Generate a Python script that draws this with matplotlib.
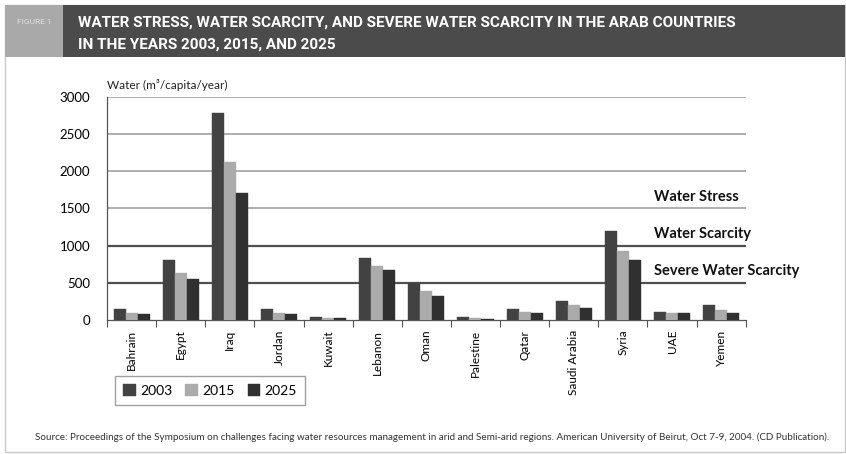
import matplotlib
matplotlib.use("Agg")
import matplotlib.pyplot as plt
import numpy as np
from matplotlib.patches import Rectangle

plt.rcParams['font.family'] = ['Lato', 'DejaVu Sans']

countries = ["Bahrain", "Egypt", "Iraq", "Jordan", "Kuwait", "Lebanon", "Oman",
             "Palestine", "Qatar", "Saudi Arabia", "Syria", "UAE", "Yemen"]
years = ["2003", "2015", "2025"]
v2003 = [148, 806, 2776, 148, 45, 837, 501, 45, 148, 251, 1200, 112, 201]
v2015 = [90, 631, 2118, 90, 22, 732, 390, 22, 103, 201, 927, 94, 130]
v2025 = [76, 546, 1706, 76, 27, 672, 322, 9, 90, 166, 806, 94, 98]
yticks = [0, 500, 1000, 1500, 2000, 2500, 3000]
thresholds = [1500, 1000, 500]
threshold_labels = ["Water Stress", "Water Scarcity", "Severe Water Scarcity"]

title = "WATER STRESS, WATER SCARCITY, AND SEVERE WATER SCARCITY IN THE ARAB COUNTRIES\nIN THE YEARS 2003, 2015, AND 2025"
source = ("Source: Proceedings of the Symposium on challenges facing water resources management in arid and Semi-arid regions. "
          "American University of Beirut, Oct 7-9, 2004. (CD Publication).")

W, H = 846, 454
fig = plt.figure(figsize=(W / 100, H / 100), dpi=100)
fig.patch.set_facecolor("white")

def fx(px):
    return px / W

def fy(py):
    return 1 - py / H

# frame and header
fig.patches.append(Rectangle((fx(5), fy(452)), fx(840), 447 / H, transform=fig.transFigure,
                             facecolor="none", edgecolor="#c8c8c8", lw=1))
fig.patches.append(Rectangle((fx(5), fy(57)), fx(58), 52 / H, transform=fig.transFigure,
                             facecolor="#a9a9a9", edgecolor="none"))
fig.patches.append(Rectangle((fx(63), fy(57)), fx(782), 52 / H, transform=fig.transFigure,
                             facecolor="#4b4b4b", edgecolor="none"))
fig.text(fx(34), fy(22), "FIGURE 1", color="#e0e0e0", fontsize=6, ha="center", va="center",
         family=["Roboto", "DejaVu Sans"])
fig.text(fx(78), fy(33.5), title, color="white", fontsize=11, fontweight="bold", ha="left",
         va="center", linespacing=1.65, family=["Roboto", "DejaVu Sans"])

ax = fig.add_axes([fx(107), fy(320), fx(745.7 - 107), (320 - 96.7) / H])
x = np.arange(len(countries))
bw = 0.245
colors = ["#424242", "#ababab", "#303030"]
for i, (vals, c) in enumerate(zip([v2003, v2015, v2025], colors)):
    ax.bar(x + (i - 1) * bw, vals, width=bw, color=c, edgecolor=c, linewidth=0.3,
           label=years[i], zorder=3)

ax.set_xlim(-0.5, len(countries) - 0.5)
ax.set_ylim(0, 3000)
ax.set_yticks(yticks)
ax.set_yticklabels([str(t) for t in yticks], fontsize=9.5)
ax.tick_params(axis="y", length=0, pad=12)
for t in yticks[1:]:
    if t in (500, 1000):
        ax.axhline(t, color="#505050", lw=1.6, zorder=1)
    else:
        ax.axhline(t, color="#999999", lw=1.1, zorder=1)

ax.set_xticks(x)
ax.set_xticklabels(countries, rotation=90, fontsize=8.5, va="top")
ax.tick_params(axis="x", length=0, pad=7)
ax.set_xticks(np.arange(-0.5, len(countries)), minor=True)
ax.tick_params(axis="x", which="minor", length=5, color="#555555", width=0.8)

for s in ["top", "right"]:
    ax.spines[s].set_visible(False)
ax.spines["left"].set_color("#555555")
ax.spines["bottom"].set_color("#555555")
ax.spines["left"].set_linewidth(0.9)
ax.spines["bottom"].set_linewidth(0.9)

fig.text(fx(107), fy(85), "Water (m\u00b3/capita/year)", fontsize=8.5,
         ha="left", va="center", color="#222222")

label_y = [1650, 1160, 660]
for ly, lab in zip(label_y, threshold_labels):
    ax.text(10.63, ly, lab, fontsize=10.5, fontweight="bold", ha="left", va="center",
            clip_on=False, color="#111111")

leg = fig.legend(loc="lower left", bbox_to_anchor=(fx(108), fy(412), fx(204), 34 / H),
                 ncol=3, fontsize=10, frameon=True, fancybox=False, edgecolor="#888888",
                 handlelength=0.9, handleheight=0.9, handletextpad=0.3, columnspacing=1.2,
                 borderpad=0.6, mode="expand")
leg.get_frame().set_linewidth(1.0)

fig.text(fx(35), fy(437), source, fontsize=7.1, ha="left", va="center", color="#333333")

fig.savefig("out.png", dpi=100)
